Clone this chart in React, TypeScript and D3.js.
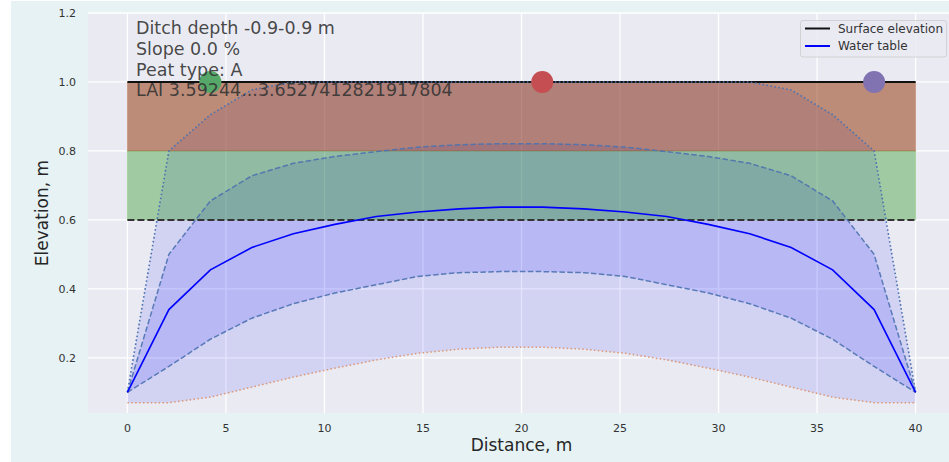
import { useEffect, useRef } from "react";
import * as d3 from "d3";

// node distances along the strip, m
const distance = [
  0, 2.105, 4.211, 6.316, 8.421, 10.526, 12.632, 14.737, 16.842, 18.947,
  21.053, 23.158, 25.263, 27.368, 29.474, 31.579, 33.684, 35.789, 37.895, 40,
];
const waterTable = [
  0.1, 0.34, 0.455, 0.52, 0.56, 0.587, 0.61, 0.623, 0.632, 0.637,
  0.637, 0.632, 0.623, 0.61, 0.587, 0.56, 0.52, 0.455, 0.34, 0.1,
];
const wtUpper = [
  0.1, 0.5, 0.655, 0.728, 0.764, 0.784, 0.798, 0.811, 0.818, 0.821,
  0.821, 0.818, 0.811, 0.798, 0.784, 0.764, 0.728, 0.655, 0.5, 0.1,
];
const wtLower = [
  0.1, 0.175, 0.254, 0.315, 0.357, 0.388, 0.412, 0.436, 0.447, 0.45,
  0.45, 0.447, 0.436, 0.412, 0.388, 0.357, 0.315, 0.254, 0.175, 0.1,
];
const wtMax = [
  0.1, 0.8, 0.905, 0.977, 1, 1, 1, 1, 1, 1,
  1, 1, 1, 1, 1, 1, 0.977, 0.905, 0.8, 0.1,
];
const wtMin = [
  0.07, 0.07, 0.086, 0.115, 0.144, 0.17, 0.194, 0.213, 0.225, 0.231,
  0.231, 0.225, 0.213, 0.194, 0.17, 0.144, 0.115, 0.086, 0.07, 0.07,
];
const surface = 1.0;
const ditchLevel = 0.6;
const peatLayers = [
  { bottom: 0.6, top: 0.8, color: "rgb(30,148,20)", alpha: 0.36 },
  { bottom: 0.8, top: 1.0, color: "rgb(142,46,0)", alpha: 0.5 },
];
const markers = [
  { x: 4.211, color: "#55a868" },
  { x: 21.053, color: "#c44e52" },
  { x: 37.895, color: "#8172b2" },
];
const xTicks = [0, 5, 10, 15, 20, 25, 30, 35, 40];
const yTicks = [0.2, 0.4, 0.6, 0.8, 1.0, 1.2];
const infoLines = [
  "Ditch depth -0.9-0.9 m",
  "Slope 0.0 %",
  "Peat type: A",
  "LAI 3.59244...3.6527412821917804",
];
const legendItems = [
  { label: "Surface elevation", color: "#111" },
  { label: "Water table", color: "#0000ff" },
];

const W = 949;
const H = 462;

export default function App() {
  const ref = useRef<SVGSVGElement>(null);

  useEffect(() => {
    const svg = d3.select(ref.current);
    svg.selectAll("*").remove();

    const font = "DejaVu Sans, sans-serif";
    const x = d3.scaleLinear().domain([-2, 42]).range([88, 955]);
    const y = d3.scaleLinear().domain([0.04, 1.2]).range([413, 13]);

    svg.append("rect").attr("x", 11).attr("y", 1).attr("width", W - 11).attr("height", H - 1).attr("fill", "#e6f2f4");
    svg.append("rect")
      .attr("x", x(-2)).attr("y", y(1.2))
      .attr("width", x(42) - x(-2)).attr("height", y(0.04) - y(1.2))
      .attr("fill", "#eaeaf2");

    const grid = svg.append("g").attr("stroke", "#fff").attr("stroke-width", 1.3);
    xTicks.forEach((t) => {
      grid.append("line").attr("x1", x(t)).attr("x2", x(t)).attr("y1", y(1.2)).attr("y2", y(0.04));
    });
    yTicks.forEach((t) => {
      grid.append("line").attr("x1", x(-2)).attr("x2", x(42)).attr("y1", y(t)).attr("y2", y(t));
    });

    const band = (lo: number[], hi: number[]) =>
      d3.area<number>()
        .x((_, i) => x(distance[i]))
        .y0((_, i) => y(lo[i]))
        .y1((_, i) => y(hi[i]))(distance);

    svg.append("path").attr("d", band(wtMin, wtMax)).attr("fill", "#0000ff").attr("fill-opacity", 0.1);
    svg.append("path").attr("d", band(wtLower, wtUpper)).attr("fill", "#0000ff").attr("fill-opacity", 0.12);

    peatLayers.forEach((p) => {
      svg.append("rect")
        .attr("x", x(0)).attr("y", y(p.top))
        .attr("width", x(40) - x(0)).attr("height", y(p.bottom) - y(p.top))
        .attr("fill", p.color).attr("fill-opacity", p.alpha)
        .attr("stroke", p.color).attr("stroke-opacity", 0.25).attr("stroke-width", 1);
    });

    const line = (vals: number[]) =>
      d3.line<number>().x((_, i) => x(distance[i])).y((_, i) => y(vals[i]))(distance);

    svg.append("line")
      .attr("x1", x(0)).attr("x2", x(40)).attr("y1", y(ditchLevel)).attr("y2", y(ditchLevel))
      .attr("stroke", "#333").attr("stroke-width", 2).attr("stroke-dasharray", "7,3");
    svg.append("line")
      .attr("x1", x(0)).attr("x2", x(40)).attr("y1", y(surface)).attr("y2", y(surface))
      .attr("stroke", "#111").attr("stroke-width", 2);

    const steel = "#4c72b0";
    svg.append("path").attr("d", line(wtMin)).attr("fill", "none").attr("stroke", "#dd8452")
      .attr("stroke-width", 1.5).attr("stroke-dasharray", "1.5,2.4").attr("stroke-opacity", 0.8);
    svg.append("path").attr("d", line(wtMax)).attr("fill", "none").attr("stroke", steel)
      .attr("stroke-width", 1.6).attr("stroke-dasharray", "1.6,2.4");
    [wtLower, wtUpper].forEach((v) => {
      svg.append("path").attr("d", line(v)).attr("fill", "none").attr("stroke", steel)
        .attr("stroke-width", 1.5).attr("stroke-dasharray", "5.5,2.4").attr("stroke-opacity", 0.9);
    });
    svg.append("path").attr("d", line(waterTable)).attr("fill", "none").attr("stroke", "#0000ff")
      .attr("stroke-width", 1.6);

    markers.forEach((m) => {
      svg.append("circle").attr("cx", x(m.x)).attr("cy", y(surface)).attr("r", 11).attr("fill", m.color);
    });

    // text block
    infoLines.forEach((t, i) => {
      svg.append("text")
        .attr("x", 136).attr("y", 34 + i * 20.8)
        .attr("font-family", font).attr("font-size", 17.5)
        .attr("fill", "#333").attr("fill-opacity", 0.9)
        .text(t);
    });

    // ticks
    xTicks.forEach((t) => {
      svg.append("text").attr("x", x(t)).attr("y", 432)
        .attr("text-anchor", "middle").attr("font-family", font).attr("font-size", 11)
        .attr("fill", "#333").text(t);
    });
    yTicks.forEach((t) => {
      svg.append("text").attr("x", 76).attr("y", y(t) + 4)
        .attr("text-anchor", "end").attr("font-family", font).attr("font-size", 11)
        .attr("fill", "#333").text(t.toFixed(1));
    });

    svg.append("text").attr("x", (x(-2) + x(42)) / 2).attr("y", 451)
      .attr("text-anchor", "middle").attr("font-family", font).attr("font-size", 17)
      .attr("fill", "#262626").text("Distance, m");
    svg.append("text")
      .attr("transform", `translate(48,${(y(1.2) + y(0.04)) / 2}) rotate(-90)`)
      .attr("text-anchor", "middle").attr("font-family", font).attr("font-size", 17)
      .attr("fill", "#262626").text("Elevation, m");

    // legend
    const lg = svg.append("g");
    lg.append("rect").attr("x", 800.5).attr("y", 20.5).attr("width", 146).attr("height", 36.5)
      .attr("rx", 2.5).attr("fill", "#eaeaf2").attr("fill-opacity", 0.8)
      .attr("stroke", "#ccc").attr("stroke-width", 0.8);
    legendItems.forEach((d, i) => {
      const ly = 28.5 + i * 17.5;
      lg.append("line").attr("x1", 805).attr("x2", 830).attr("y1", ly).attr("y2", ly)
        .attr("stroke", d.color).attr("stroke-width", 2);
      lg.append("text").attr("x", 838).attr("y", ly + 4)
        .attr("font-family", font).attr("font-size", 12).attr("fill", "#333").text(d.label);
    });
  }, []);

  return (
    <svg
      ref={ref}
      width={W}
      height={H}
      style={{ position: "absolute", left: 0, top: 0, background: "#fff" }}
    />
  );
}
